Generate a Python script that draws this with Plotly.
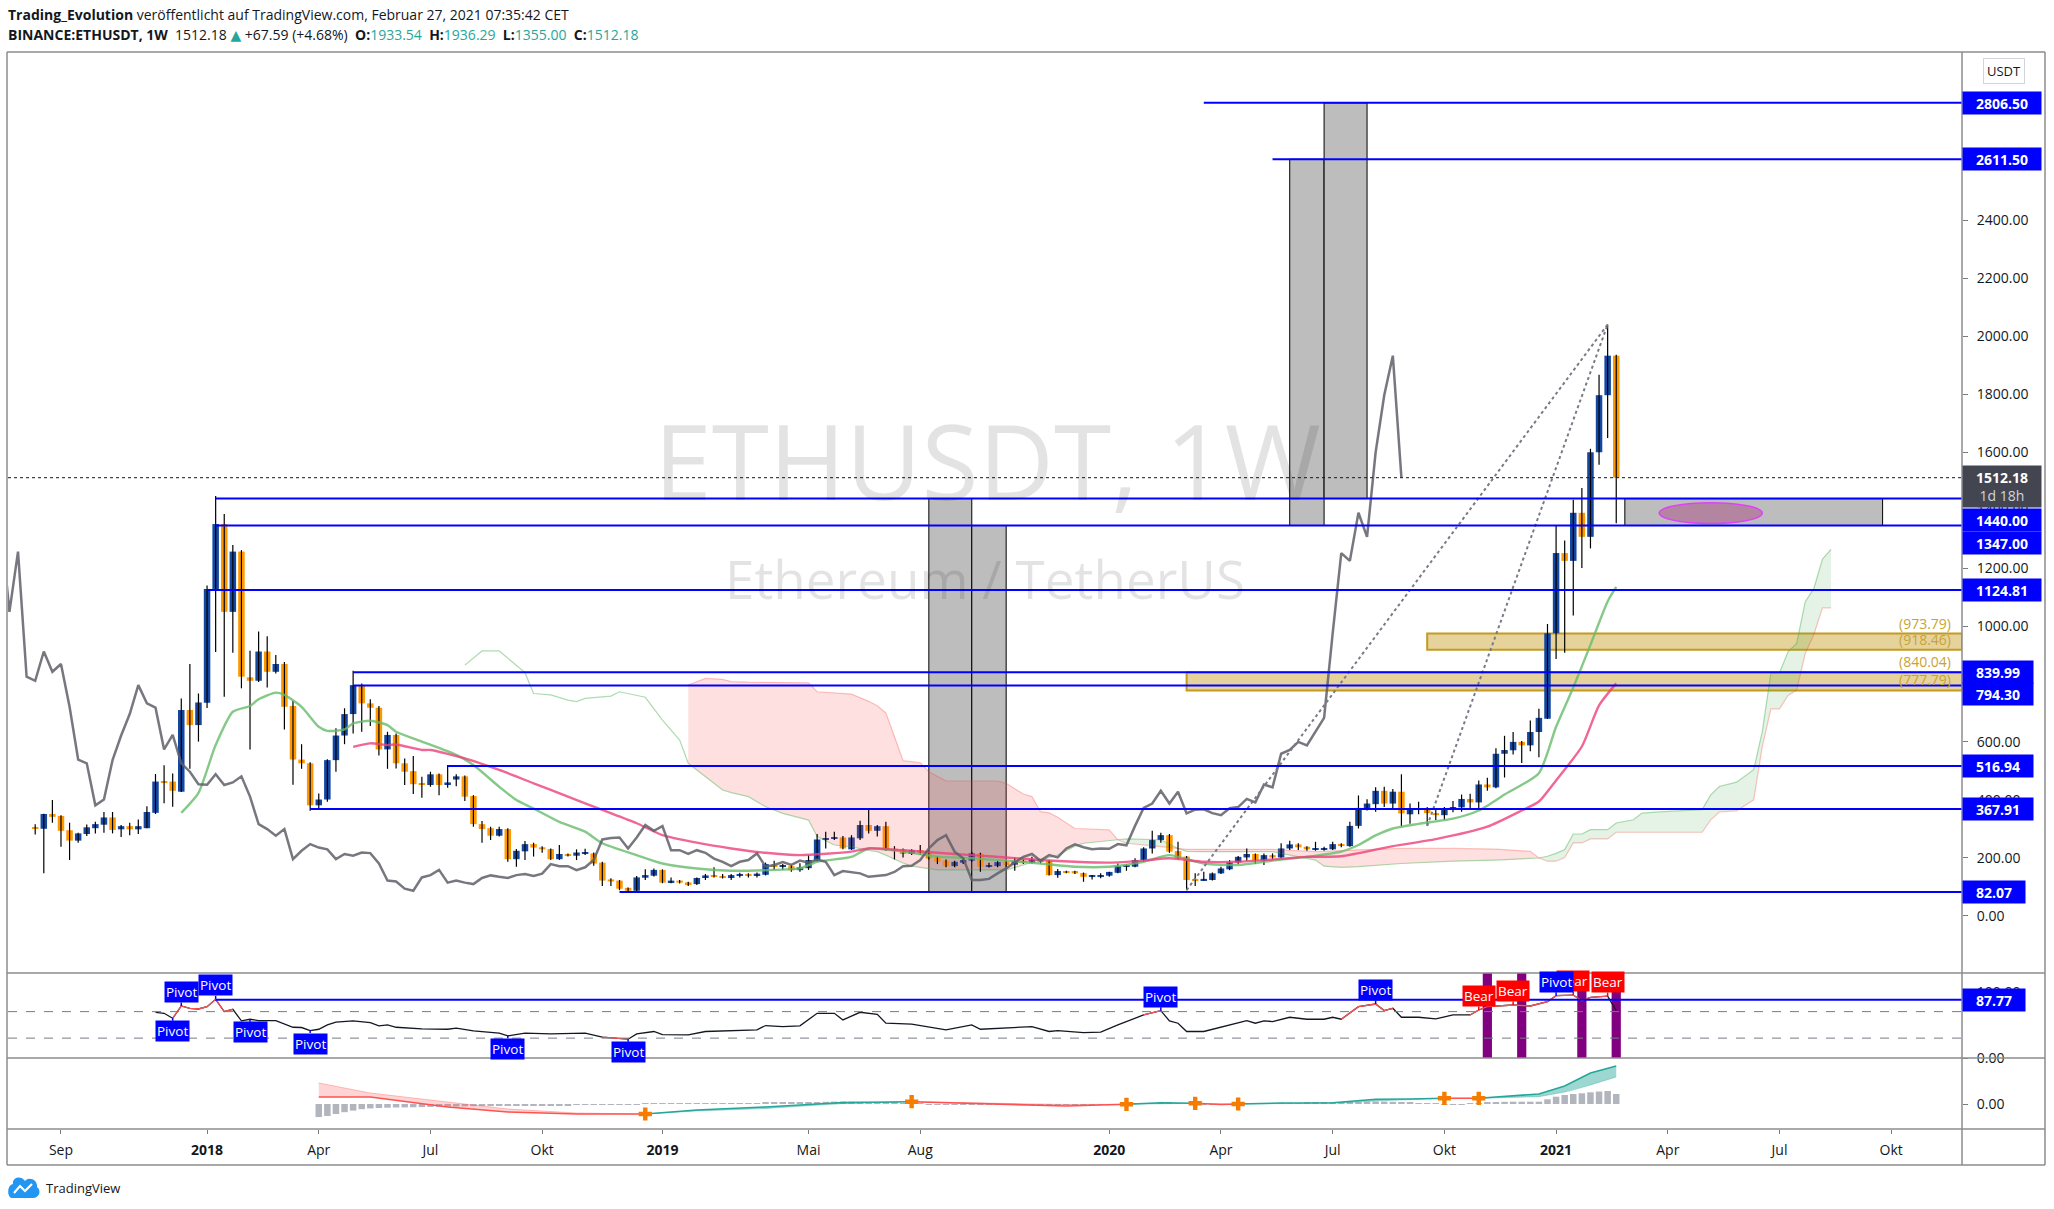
import pandas as pd
import plotly.graph_objects as go
from plotly.subplots import make_subplots

# BINANCE:ETHUSDT weekly candles, first bar = week of 14.08.2017
first_week = pd.Timestamp("2017-08-14")

opens = [306, 300, 351, 344, 295, 259, 282, 302, 314, 339,
         298, 309, 298, 302, 355, 463, 463, 428, 710, 658,
         735, 1128, 1352, 1049, 1257, 823, 811, 912, 842, 869,
         724, 539, 526, 381, 401, 537, 622, 696, 796, 733,
         718, 574, 624, 526, 499, 457, 451, 488, 451, 470,
         481, 413, 316, 302, 276, 299, 195, 222, 247, 236,
         230, 195, 213, 207, 215, 215, 183, 125, 121, 96,
         86, 131, 138, 158, 115, 121, 115, 109, 130, 138,
         137, 130, 137, 144, 137, 141, 176, 168, 171, 157,
         164, 190, 263, 267, 270, 229, 267, 313, 293, 309,
         231, 229, 213, 226, 220, 201, 190, 171, 183, 190,
         215, 168, 171, 185, 176, 190, 183, 190, 190, 140,
         154, 154, 147, 134, 134, 138, 148, 169, 169, 192,
         232, 261, 278, 223, 204, 127, 123, 123, 146, 160,
         184, 201, 213, 190, 209, 201, 232, 246, 238, 229,
         229, 229, 247, 240, 310, 367, 385, 431, 387, 428,
         350, 365, 369, 354, 347, 371, 374, 403, 391, 453,
         443, 559, 571, 600, 588, 634, 680, 975, 1252, 1225,
         1391, 1308, 1600, 1797, 1933.54]
highs = [316, 352, 399, 347, 321, 286, 315, 324, 358, 358,
         313, 321, 332, 378, 489, 519, 491, 750, 869, 767,
         1140, 1449, 1387, 1280, 1262, 915, 981, 965, 900, 876,
         742, 592, 530, 422, 540, 647, 716, 846, 802, 747,
         724, 635, 629, 543, 551, 480, 497, 491, 520, 488,
         484, 416, 327, 307, 307, 302, 230, 258, 252, 240,
         232, 244, 215, 229, 231, 218, 186, 129, 123, 97,
         137, 160, 163, 160, 132, 123, 117, 132, 144, 167,
         144, 144, 148, 146, 149, 183, 190, 178, 176, 181,
         209, 282, 290, 290, 275, 278, 328, 370, 313, 324,
         240, 232, 229, 244, 226, 206, 194, 190, 198, 221,
         217, 183, 190, 190, 201, 194, 203, 194, 192, 161,
         155, 155, 149, 140, 146, 152, 180, 178, 198, 236,
         293, 286, 282, 255, 206, 146, 152, 149, 169, 192,
         206, 232, 215, 215, 215, 250, 259, 250, 240, 255,
         238, 255, 250, 324, 415, 402, 443, 445, 437, 488,
         387, 393, 375, 369, 375, 396, 418, 421, 467, 476,
         578, 621, 634, 603, 674, 714, 1007, 1347, 1295, 1436,
         1477, 1612, 1868, 2041, 1936.29]
lows = [280, 146, 321, 238, 192, 252, 275, 284, 286, 284,
        272, 278, 282, 302, 351, 388, 376, 427, 507, 601,
        717, 910, 756, 908, 785, 574, 807, 788, 836, 643,
        452, 507, 362, 365, 393, 497, 592, 629, 635, 655,
        553, 507, 508, 451, 420, 407, 445, 416, 442, 447,
        396, 307, 252, 261, 273, 186, 169, 192, 204, 217,
        192, 192, 204, 192, 209, 172, 102, 102, 88, 82.07,
        83, 123, 135, 112, 112, 111, 102, 106, 123, 132,
        128, 123, 132, 132, 132, 139, 158, 158, 152, 152,
        158, 185, 232, 261, 229, 227, 261, 284, 273, 224,
        194, 201, 209, 209, 194, 178, 167, 167, 178, 186,
        152, 166, 167, 169, 155, 178, 180, 180, 139, 131,
        146, 144, 117, 125, 129, 134, 146, 155, 167, 186,
        215, 252, 217, 194, 88, 102, 121, 121, 144, 157,
        178, 190, 178, 175, 194, 198, 227, 227, 224, 224,
        224, 227, 236, 238, 301, 363, 359, 375, 369, 308,
        317, 350, 310, 330, 330, 357, 359, 371, 369, 431,
        440, 477, 556, 527, 568, 547, 679, 886, 908, 1036,
        1200, 1268, 1557, 1649, 1355.00]
closes = [300, 351, 341, 293, 259, 284, 305, 316, 339, 296,
          309, 298, 309, 358, 463, 461, 431, 710, 658, 736,
          1128, 1352, 1049, 1257, 825, 811, 912, 842, 869, 721,
          539, 526, 381, 401, 537, 622, 696, 796, 733, 718,
          574, 624, 526, 497, 454, 452, 488, 451, 460, 481,
          411, 316, 299, 276, 299, 195, 224, 247, 235, 229,
          195, 213, 207, 218, 216, 180, 121, 118, 93, 86,
          132, 140, 158, 114, 121, 114, 109, 130, 139, 134,
          130, 140, 144, 137, 145, 178, 171, 171, 157, 167,
          192, 263, 268, 270, 232, 270, 313, 293, 309, 226,
          226, 213, 226, 217, 197, 186, 171, 186, 192, 215,
          169, 175, 185, 175, 190, 183, 194, 186, 140, 154,
          149, 146, 134, 138, 140, 151, 171, 172, 192, 232,
          261, 278, 221, 198, 123, 123, 127, 146, 163, 184,
          203, 213, 190, 209, 201, 232, 246, 236, 229, 232,
          231, 247, 243, 310, 372, 387, 431, 387, 428, 353,
          366, 367, 354, 347, 371, 375, 403, 391, 453, 443,
          559, 572, 600, 588, 634, 683, 975, 1252, 1225, 1391,
          1308, 1600, 1797, 1933.54, 1512.18]

# drawings: horizontal rays (price, first week index)
level_prices = [2806.50, 2611.50, 1440.00, 1347.00, 1124.81, 839.99, 794.30, 516.94, 367.91, 82.07]
level_from = [136, 144, 21, 21, 20, 37, 37, 48, 32, 68]
level_label_shift = [0, 0, -21, -17, 0, 0, -8, 0, 0, 0]

band_top = [973.79, 840.04]
band_bottom = [918.46, 777.79]
band_from = [162, 134]

box_from = [104, 109, 146, 150, 185]
box_to = [109, 113, 150, 155, 215]
box_low = [82.07, 82.07, 1347.00, 1440.00, 1347.00]
box_high = [1440.00, 1347.00, 2611.50, 2806.50, 1440.00]

ellipse_weeks = [189, 201]
ellipse_prices = [1354, 1426]

trend_from_week = [134, 162]
trend_from_price = [88, 310]
trend_to_week = [183, 183]
trend_to_price = [2041, 2041]

# ichimoku
span_a_early_week = [50, 52, 54, 57, 58, 60, 62, 63, 64, 67, 68, 71, 73, 75, 76]
span_a_early = [865, 914, 914, 839, 767, 762, 744, 739, 750, 758, 773, 754, 675, 606, 526]
cloud_week = [76, 78, 80, 81, 83, 85, 87, 90, 91, 93, 95, 97, 98, 99, 100, 101, 102, 103, 104, 105,
              106, 112, 113, 115, 116, 117, 118, 119, 121, 122, 124, 125, 126, 127, 131, 133, 134, 136, 144, 149,
              150, 152, 154, 159, 165, 170, 174, 175, 176, 177, 178, 179, 180, 181, 183, 184, 186, 187, 189, 191,
              194, 195, 196, 198, 200, 201, 202, 203, 204, 205, 206, 207, 208, 209]
cloud_a = [526, 480, 434, 425, 411, 376, 353, 330, 273, 244, 238, 225, 221, 209, 195, 182, 171, 166, 163, 158,
           158, 158, 158, 175, 185, 194, 200, 209, 240, 250, 256, 258, 262, 265, 262, 232, 222, 221, 221, 192,
           171, 167, 169, 180, 188, 192, 197, 199, 205, 215, 228, 282, 282, 297, 297, 320, 331, 354, 358, 362,
           366, 417, 446, 461, 504, 636, 837, 839, 911, 940, 1084, 1130, 1231, 1265]
cloud_b = [796, 819, 816, 808, 806, 805, 805, 804, 773, 770, 765, 740, 725, 700, 620, 535, 532, 528, 497, 480,
           465, 465, 457, 420, 411, 359, 355, 340, 301, 300, 298, 296, 262, 250, 238, 232, 229, 229, 229, 221,
           222, 224, 228, 232, 232, 230, 222, 199, 188, 188, 201, 251, 251, 265, 265, 288, 288, 288, 288, 288,
           288, 331, 358, 362, 400, 584, 714, 714, 760, 779, 906, 971, 1063, 1063]
chikou_shift = 25

# moving averages
green_week = [17, 19, 21, 23, 25, 26, 28, 29, 31, 33, 34, 36, 37, 39, 41, 42, 45, 49, 51, 54,
              56, 58, 61, 64, 66, 70, 73, 77, 81, 85, 89, 91, 95, 97, 101, 105, 109, 113, 117, 121,
              125, 129, 132, 136, 140, 144, 148, 152, 154, 156, 158, 161, 165, 168, 171, 175, 177, 179, 181, 183, 184]
green_ma = [355, 424, 589, 704, 724, 747, 770, 762, 721, 652, 638, 643, 664, 673, 658, 635, 601, 555, 520, 445,
            399, 370, 324, 290, 250, 209, 180, 163, 155, 157, 163, 186, 203, 232, 221, 204, 198, 190, 180, 169,
            169, 186, 209, 180, 175, 190, 203, 221, 244, 277, 301, 317, 335, 363, 418, 492, 652, 788, 935, 1085, 1135]
pink_week = [37, 39, 41, 42, 45, 46, 50, 54, 58, 62, 66, 70, 73, 77, 81, 85, 89, 95, 97, 101,
             105, 109, 113, 117, 121, 125, 129, 132, 136, 140, 144, 148, 152, 158, 163, 169, 173, 175, 177, 180,
             182, 184]
pink_ma = [583, 595, 589, 591, 572, 572, 543, 503, 457, 411, 365, 319, 278, 252, 232, 217, 209, 221, 232, 226,
           217, 209, 201, 192, 186, 183, 190, 198, 186, 186, 194, 203, 205, 240, 264, 307, 363, 394, 467, 584,
           726, 802]

# RSI pane
rsi_week = [14, 15, 16, 17, 18, 19, 20, 21, 22, 23, 24, 25, 26, 28, 30, 31, 32, 33, 34, 35,
            37, 39, 40, 41, 42, 45, 48, 49, 51, 54, 55, 57, 60, 63, 64, 66, 68, 69, 70, 72,
            73, 76, 78, 81, 84, 85, 87, 89, 91, 93, 94, 96, 98, 99, 102, 106, 109, 110, 112, 116,
            118, 119, 122, 124, 126, 129, 131, 132, 133, 134, 136, 140, 141, 142, 143, 144, 146, 148, 150, 151,
            152, 154, 156, 157, 158, 159, 161, 163, 165, 167, 168, 169, 172, 174, 176, 177, 179, 180, 181, 183, 184]
rsi_value = [69, 67.5, 60, 78.5, 75, 74, 77.5, 88.5, 70, 73.5, 56, 58.5, 56.5, 56.5, 46.4, 46, 41.4, 43.4, 50, 54,
             56, 53.5, 48.5, 50, 46.4, 44, 43.4, 45, 41, 37.4, 33.4, 37.4, 36.4, 36.4, 37.4, 31.4, 28.9, 28.4, 36.4, 40,
             35.4, 35, 40, 41.4, 42.4, 49, 47.4, 48.5, 67.5, 67.5, 57.5, 69, 66, 52.5, 51, 42.4, 50, 43.4, 45, 47.4,
             40, 41.4, 38.4, 39, 50, 65, 71.5, 56, 52.5, 40, 40, 52.5, 56.5, 52.5, 56, 55, 61.5, 58.5, 58.5, 61.5,
             58.5, 77.5, 81.5, 71.5, 75, 61.5, 61.5, 59, 65, 65, 72.5, 77.5, 80, 78.5, 85, 94, 95, 86.5, 91.5, 93.5, 71.5]
rsi_red_ranges = [(16, 23), (66, 69), (129, 131), (152, 158), (167, 183)]
rsi_level = 87.77
rsi_level_from = 21
pivot_week = [16, 17, 21, 25, 32, 55, 69, 131, 156, 177]
pivot_value = [60, 78.5, 88.5, 58.5, 41.4, 33.4, 28.4, 71.5, 81.5, 94]
pivot_is_high = [False, True, True, False, False, False, False, True, True, True]
bear_week = [168, 172, 179, 183]
bear_value = [72.5, 80, 95, 93.5]
divergence_week = [169, 173, 180, 184]

# MACD pane
macd_week = [33, 39, 48, 55, 63, 70, 71, 77, 85, 92, 94, 102, 112, 120, 127, 131, 135, 138, 140, 145,
             151, 156, 160, 164, 166, 168, 172, 175, 178, 179, 181, 184]
macd_line = [70, 70, -30, -80, -100, -105, -100, -60, -30, 5, 15, 23, -5, -20, -3, 13, 7, -5, 0, 10,
             13, 47, 50, 57, 55, 57, 80, 100, 180, 223, 310, 380]
signal_line = [210, 110, 20, -50, -90, -100, -100, -70, -45, -5, 5, 23, 5, -5, -3, 0, 7, 3, 0, 5,
               8, 30, 45, 57, 58, 57, 65, 73, 120, 140, 190, 270]
hist_from = 33
macd_hist = [-130, -120, -100, -82, -66, -52, -44, -40, -37, -35, -34, -33, -31, -29, -28, -27, -25,
             -23, -22, -21, -20, -19, -18, -17, -16, -15, -14, -13, -12, -11, -10, -9, -8, -8, -8, -8, -8, -8,
             8, 8, 8, 8, 8, 8, 8, 8, 8, 9, 9, 10, 10, 10, 11, 12, 13, 14, 16, 18, 20, 22, 24, 25, 24, 22, 20, 17, 14, 11, 8,
             8, 8, -8, -8, -8, -8, -8, -8, -8, -8, -8, -8, -8, -8, -8, -8, -8, -8, -8, -8, -8, -8, -8, -8, -8, 8,
             8, 8, 10, 12, 12, 10, 8, 8, -8, -8, -8, -8,
             8, 8, 8, 8, 8, 9, 10, 10, 11, 12, 13, 14, 15, 17, 20, 22, 25, 24, 22, 18, 14, 10, 8, 8,
             -8, -8, -8, 8, 8, 15, 20, 22, 23, 23, 23, 23, 47, 73, 90, 100, 107, 117, 125, 130, 100]
cross_week = [71, 102, 127, 135, 140, 164, 168]
cross_value = [-100, 23, -3, 7, 0, 57, 57]

month_ticks = ["2017-09-04", "2018-01-01", "2018-04-02", "2018-07-02", "2018-10-01", "2019-01-07",
               "2019-05-06", "2019-08-05", "2020-01-06", "2020-04-06", "2020-07-06", "2020-10-05",
               "2021-01-04", "2021-04-05", "2021-07-05", "2021-10-04"]
month_labels = ["Sep", "<b>2018</b>", "Apr", "Jul", "Okt", "<b>2019</b>", "Mai", "Aug", "<b>2020</b>",
                "Apr", "Jul", "Okt", "<b>2021</b>", "Apr", "Jul", "Okt"]


def week(k):
    return first_week + pd.Timedelta(days=7 * k)


# pixel layout of the screenshot
W, H = 2054, 1209
PL, PR, PT, PB = 8, 1962, 52, 1129


def px_x(px):
    return (px - PL) / (PR - PL)


def px_y(py):
    return (PB - py) / (PB - PT)


BLUE = "#0000FF"
UP = "#1447A0"
DOWN = "#FF9800"
TEAL = "#26A69A"
GREY = "#8C8C8C"

x_left = week(-3.166)
x_right = week(224.24)

fig = make_subplots(rows=3, cols=1, shared_xaxes=True, vertical_spacing=0,
                    row_heights=[921, 85, 71])


def split_by_sign(a, b):
    segments, current = [], [0]
    for i in range(1, len(a)):
        current.append(i)
        if a[i] == b[i] or i == len(a) - 1:
            diffs = [a[j] - b[j] for j in current if a[j] != b[j]]
            segments.append((diffs[0] > 0, current))
            current = [i]
    return segments


# ichimoku cloud
for bullish, idx in split_by_sign(cloud_a, cloud_b):
    xs = [week(cloud_week[i]) for i in idx]
    poly_x = xs + xs[::-1]
    poly_y = [cloud_a[i] for i in idx] + [cloud_b[i] for i in idx][::-1]
    fig.add_trace(go.Scatter(x=poly_x, y=poly_y, fill="toself", mode="lines", line=dict(width=0),
                             fillcolor="rgba(76,175,80,0.15)" if bullish else "rgba(255,82,82,0.18)",
                             hoverinfo="skip"), row=1, col=1)
fig.add_trace(go.Scatter(x=[week(k) for k in span_a_early_week + cloud_week[1:]],
                         y=span_a_early + cloud_a[1:], mode="lines",
                         line=dict(color="rgba(76,175,80,0.45)", width=1.2)), row=1, col=1)
fig.add_trace(go.Scatter(x=[week(k) for k in cloud_week], y=cloud_b, mode="lines",
                         line=dict(color="rgba(244,67,54,0.3)", width=1.2)), row=1, col=1)

# candles: wicks then bodies
wx, wy = [], []
for i in range(len(closes)):
    wx += [week(i), week(i), None]
    wy += [lows[i], highs[i], None]
fig.add_trace(go.Scatter(x=wx, y=wy, mode="lines", line=dict(color="#000000", width=1.2),
                         hoverinfo="skip"), row=1, col=1)
body_base = [min(o, c) for o, c in zip(opens, closes)]
body_size = [max(abs(c - o), 3.5) for o, c in zip(opens, closes)]
body_color = [UP if c >= o else DOWN for o, c in zip(opens, closes)]
fig.add_trace(go.Bar(x=[week(i) for i in range(len(closes))], y=body_size, base=body_base,
                     marker=dict(color=body_color, line=dict(width=0)),
                     width=5.3 * 86400000), row=1, col=1)

# moving averages
fig.add_trace(go.Scatter(x=[week(k) for k in green_week], y=green_ma, mode="lines",
                         line=dict(color="rgba(102,187,106,0.8)", width=2.4, shape="spline", smoothing=0.6)),
              row=1, col=1)
fig.add_trace(go.Scatter(x=[week(k) for k in pink_week], y=pink_ma, mode="lines",
                         line=dict(color="rgba(236,64,122,0.8)", width=2.4, shape="spline", smoothing=0.6)),
              row=1, col=1)

# lagging span
fig.add_trace(go.Scatter(x=[week(i - chikou_shift) for i in range(len(closes))], y=closes, mode="lines",
                         line=dict(color="rgba(95,95,105,0.85)", width=2.5)), row=1, col=1)

# dotted trend lines
for i in range(len(trend_from_week)):
    fig.add_trace(go.Scatter(x=[week(trend_from_week[i]), week(trend_to_week[i])],
                             y=[trend_from_price[i], trend_to_price[i]], mode="lines",
                             line=dict(color="#787B86", width=2, dash="dot")), row=1, col=1)

# RSI pane
fig.add_trace(go.Bar(x=[week(k) for k in divergence_week], y=[128.3] * len(divergence_week),
                     base=0, marker=dict(color="#800080", line=dict(width=0)),
                     width=7.5 * 86400000), row=2, col=1)
fig.add_trace(go.Scatter(x=[week(k) for k in rsi_week], y=rsi_value, mode="lines",
                         line=dict(color="#131722", width=1.3)), row=2, col=1)
red_x, red_y = [], []
for lo, hi in rsi_red_ranges:
    for k, v in zip(rsi_week, rsi_value):
        if lo <= k <= hi:
            red_x.append(week(k))
            red_y.append(v)
    red_x.append(None)
    red_y.append(None)
fig.add_trace(go.Scatter(x=red_x, y=red_y, mode="lines", line=dict(color="#FF5252", width=1.3)),
              row=2, col=1)

# MACD pane
fig.add_trace(go.Bar(x=[week(hist_from + i) for i in range(len(macd_hist))], y=macd_hist,
                     marker=dict(color="#B2B5BE", line=dict(width=0)), width=5.3 * 86400000),
              row=3, col=1)
for bullish, idx in split_by_sign(macd_line, signal_line):
    xs = [week(macd_week[i]) for i in idx]
    fig.add_trace(go.Scatter(x=xs + xs[::-1],
                             y=[macd_line[i] for i in idx] + [signal_line[i] for i in idx][::-1],
                             fill="toself", mode="lines", line=dict(width=0),
                             fillcolor="rgba(38,166,154,0.45)" if bullish else "rgba(255,82,82,0.25)"),
                  row=3, col=1)
    fig.add_trace(go.Scatter(x=xs, y=[macd_line[i] for i in idx], mode="lines",
                             line=dict(color=TEAL if bullish else "#FF5252", width=1.6)), row=3, col=1)
    fig.add_trace(go.Scatter(x=xs, y=[signal_line[i] for i in idx], mode="lines",
                             line=dict(color="rgba(38,166,154,0.35)" if bullish else "rgba(255,82,82,0.35)",
                                       width=1)), row=3, col=1)
fig.add_trace(go.Scatter(x=[week(k) for k in cross_week], y=cross_value, mode="markers",
                         marker=dict(symbol="cross", size=11, color="#F57C00", line=dict(width=0))),
              row=3, col=1)

shapes = []
# grey boxes and bands behind the candles
for i in range(len(box_from)):
    shapes.append(dict(type="rect", xref="x", yref="y", x0=week(box_from[i]), x1=week(box_to[i]),
                       y0=box_low[i], y1=box_high[i], fillcolor="#BDBDBD",
                       line=dict(color="#000000", width=1), layer="below"))
for i in range(len(band_top)):
    shapes.append(dict(type="rect", xref="x", yref="y", x0=week(band_from[i]), x1=x_right,
                       y0=band_bottom[i], y1=band_top[i], fillcolor="rgba(200,160,40,0.46)",
                       line=dict(color="#C49A22", width=2), layer="below"))
shapes.append(dict(type="circle", xref="x", yref="y", x0=week(ellipse_weeks[0]), x1=week(ellipse_weeks[1]),
                   y0=ellipse_prices[0], y1=ellipse_prices[1], fillcolor="rgba(160,30,110,0.35)",
                   line=dict(color="#E040FB", width=1.5)))
for p, k in zip(level_prices, level_from):
    shapes.append(dict(type="line", xref="x", yref="y", x0=week(k), x1=x_right, y0=p, y1=p,
                       line=dict(color=BLUE, width=2)))
shapes.append(dict(type="line", xref="x domain", yref="y", x0=0, x1=1, y0=closes[-1], y1=closes[-1],
                   line=dict(color="#131722", width=1, dash="dot")))
for v in (70, 30):
    shapes.append(dict(type="line", xref="x2 domain", yref="y2", x0=0, x1=1, y0=v, y1=v,
                       line=dict(color="#787B86", width=1, dash="dash")))
shapes.append(dict(type="line", xref="x2", yref="y2", x0=week(rsi_level_from), x1=x_right,
                   y0=rsi_level, y1=rsi_level, line=dict(color=BLUE, width=2)))

# frame of the TradingView layout
for py in (52, 973, 1058, 1129, 1165):
    shapes.append(dict(type="line", xref="paper", yref="paper", x0=px_x(7), x1=px_x(2045),
                       y0=px_y(py), y1=px_y(py), line=dict(color=GREY, width=1.5)))
for px in (7, 1962, 2045):
    shapes.append(dict(type="line", xref="paper", yref="paper", x0=px_x(px), x1=px_x(px),
                       y0=px_y(52), y1=px_y(1165), line=dict(color=GREY, width=1.5)))
# TradingView logo
shapes.append(dict(type="path", xref="paper", yref="paper", xsizemode="pixel", ysizemode="pixel",
                   xanchor=px_x(7), yanchor=px_y(1198),
                   path="M4,0 L26,0 C32,0 35,7 30,11 C31,18 22,22 18,17 C14,23 5,21 6,14 C0,13 0,2 4,0 Z",
                   fillcolor="#2196F3", line=dict(width=0)))
shapes.append(dict(type="path", xref="paper", yref="paper", xsizemode="pixel", ysizemode="pixel",
                   xanchor=px_x(7), yanchor=px_y(1198), path="M7,5 L13,12 L18,7 L25,14",
                   line=dict(color="white", width=2.2)))

ann = []
teal_span = "<span style='color:%s'>%s</span>"
ann.append(dict(xref="paper", yref="paper", x=px_x(6), y=px_y(15), xanchor="left", yanchor="middle",
                showarrow=False, font=dict(size=14),
                text="<b>Trading_Evolution</b> veröffentlicht auf TradingView.com, Februar 27, 2021 07:35:42 CET"))
ann.append(dict(xref="paper", yref="paper", x=px_x(6), y=px_y(34), xanchor="left", yanchor="middle",
                showarrow=False, font=dict(size=14),
                text="<b>BINANCE:ETHUSDT, 1W</b>  %.2f %s +67.59 (+4.68%%)  <b>O:</b>%s  <b>H:</b>%s  <b>L:</b>%s  <b>C:</b>%s"
                     % (closes[-1], teal_span % (TEAL, "▲"), teal_span % (TEAL, "%.2f" % opens[-1]),
                        teal_span % (TEAL, "%.2f" % highs[-1]), teal_span % (TEAL, "%.2f" % lows[-1]),
                        teal_span % (TEAL, "%.2f" % closes[-1]))))
# watermark
ann.append(dict(xref="paper", yref="paper", x=px_x(988), y=px_y(459), xanchor="center", yanchor="middle",
                showarrow=False, text="ETHUSDT, 1W", font=dict(size=104, color="rgba(0,0,0,0.11)")))
ann.append(dict(xref="paper", yref="paper", x=px_x(985), y=px_y(578), xanchor="center", yanchor="middle",
                showarrow=False, text="Ethereum / TetherUS", font=dict(size=53, color="rgba(0,0,0,0.11)")))

# pivot / bear labels on the RSI
for k, v in zip(bear_week, bear_value):
    ann.append(dict(xref="x2", yref="y2", x=week(k), y=v, text="Bear", showarrow=True, arrowhead=0,
                    arrowwidth=1.5, arrowcolor="#FF0000", ax=0, ay=-14, bgcolor="#FF0000",
                    font=dict(color="white", size=13.5), borderpad=1, standoff=0))
for k, v, hi in zip(pivot_week, pivot_value, pivot_is_high):
    ann.append(dict(xref="x2", yref="y2", x=week(k), y=v, text="Pivot", showarrow=True, arrowhead=0,
                    arrowwidth=1.5, arrowcolor=BLUE, ax=0, ay=-14 if hi else 13, bgcolor=BLUE,
                    font=dict(color="white", size=13.5), borderpad=1, standoff=0))

# yellow band labels
for top, bot in zip(band_top, band_bottom):
    for v in (top, bot):
        ann.append(dict(xref="paper", yref="y", x=px_x(1953), y=v, xanchor="right", yanchor="bottom",
                        yshift=-1, showarrow=False, text="(%.2f)" % v,
                        font=dict(size=14, color="#C9A332")))


def axis_label(text, y, yref, bg, shift=0):
    return dict(xref="paper", x=1.0, xanchor="left", yref=yref, y=y, yshift=shift, yanchor="middle",
                text="<b>%s</b>" % text, showarrow=False, bgcolor=bg,
                font=dict(color="white", size=14), width=8 * len(text) + 16, height=16,
                borderpad=3, align="center")


for p, s in zip(level_prices, level_label_shift):
    ann.append(axis_label("%.2f" % p, p, "y", BLUE, s))
ann.append(axis_label("%.2f" % rsi_level, rsi_level, "y2", BLUE))
ann.append(dict(xref="paper", x=1.0, xanchor="left", yref="y", y=closes[-1], yshift=-9, yanchor="middle",
                text="<b>%.2f</b><br><span style='color:#D1D4DC'>1d 18h</span>" % closes[-1],
                showarrow=False, bgcolor="#434651", font=dict(color="white", size=14),
                width=72, height=35, borderpad=3, align="center"))
ann.append(dict(xref="paper", yref="paper", x=px_x(2004), y=px_y(70.5), xanchor="center", yanchor="middle",
                showarrow=False, text="USDT", font=dict(size=13), bgcolor="white",
                bordercolor="#D1D4DC", borderwidth=1, borderpad=3))
ann.append(dict(xref="paper", yref="paper", x=px_x(44), y=px_y(1188), xanchor="left", yanchor="middle",
                showarrow=False, text="TradingView", font=dict(size=13, color="#131722")))

fig.update_layout(
    width=W, height=H, margin=dict(l=PL, r=W - PR, t=PT, b=H - PB),
    paper_bgcolor="white", plot_bgcolor="white", showlegend=False, barmode="overlay",
    font=dict(family="Open Sans, DejaVu Sans, sans-serif", color="#131722"),
    shapes=shapes, annotations=ann, hovermode=False,
)
axis_common = dict(showgrid=False, zeroline=False, showline=False)
for r in (1, 2, 3):
    fig.update_xaxes(range=[x_left, x_right], row=r, col=1, **axis_common)
fig.update_xaxes(row=1, col=1, showticklabels=False, ticks="")
fig.update_xaxes(row=2, col=1, showticklabels=False, ticks="")
fig.update_xaxes(row=3, col=1, tickvals=month_ticks, ticktext=month_labels, ticks="outside", ticklen=4,
                 tickcolor="#787B86", tickfont=dict(size=14), ticklabelstandoff=4)

price_ticks = list(range(0, 2801, 200))
fig.update_yaxes(row=1, col=1, side="right", range=[-198, 2982], tickvals=price_ticks,
                 ticktext=["%.2f" % v for v in price_ticks], ticks="outside", ticklen=5,
                 tickcolor="#787B86", tickfont=dict(size=14), ticklabelstandoff=6, **axis_common)
fig.update_yaxes(row=2, col=1, side="right", range=[0, 128.3], tickvals=[0, 100],
                 ticktext=["0.00", "100.00"], ticks="outside", ticklen=5, tickcolor="#787B86",
                 tickfont=dict(size=14), ticklabelstandoff=6, **axis_common)
fig.update_yaxes(row=3, col=1, side="right", range=[-250, 460], tickvals=[0], ticktext=["0.00"],
                 ticks="outside", ticklen=5, tickcolor="#787B86", tickfont=dict(size=14),
                 ticklabelstandoff=6, **axis_common)
fig.update_layout(yaxis=dict(domain=[px_y(973), 1]), yaxis2=dict(domain=[px_y(1058), px_y(973)]),
                  yaxis3=dict(domain=[0, px_y(1058)]))

fig.write_html("out.html", config={"displayModeBar": False},
               post_script="document.body.style.margin='0';")
